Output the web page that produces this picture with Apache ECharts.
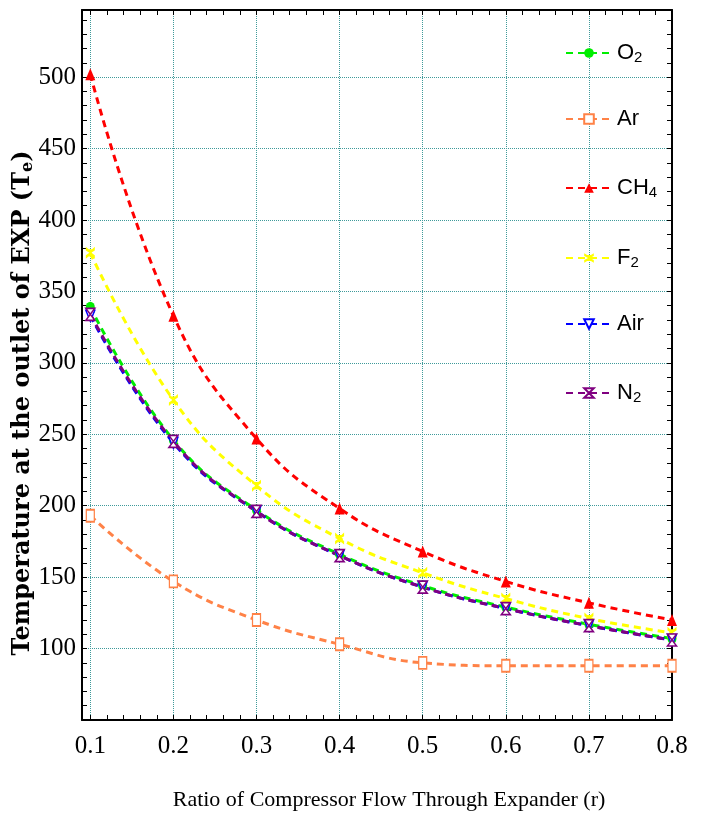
<!DOCTYPE html>
<html>
<head>
<meta charset="utf-8">
<script src="https://cdn.jsdelivr.net/npm/echarts@6/dist/echarts.min.js"></script>
<style>
  html, body { margin: 0; padding: 0; background: #ffffff; }
  #chart { width: 702px; height: 819px; }
</style>
</head>
<body>
<div id="chart"></div>
<script>
// Ratio of compressor flow through the expander
const ratio = [0.1, 0.2, 0.3, 0.4, 0.5, 0.6, 0.7, 0.8];

// Expander outlet temperature for each working gas
const tO2  = [339, 246, 197, 166, 144, 129, 117, 107];
const tAr  = [193, 147, 120, 103, 90, 88, 88, 88];
const tCH4 = [502, 333, 247, 198, 168, 147, 132, 120];
const tF2  = [377, 274, 214, 177, 153, 135, 121, 111];
const tAir = [333, 244, 196, 165, 143, 128, 116, 106];
const tN2  = [334, 245, 196, 165, 143, 128, 116, 106];

// Axis ticks
const xTickLabels = [0.1, 0.2, 0.3, 0.4, 0.5, 0.6, 0.7, 0.8];
const xMinorStep = 0.02;
const yTickLabels = [100, 150, 200, 250, 300, 350, 400, 450, 500];

const xMinorTicks = [];
for (let v = 0.1; v <= 0.8001; v += xMinorStep) xMinorTicks.push(+v.toFixed(2));

const GRID_COLOR = '#3f9a9a';
const SERIF = '"Liberation Serif", "Times New Roman", serif';
const SANS = '"Liberation Sans", Arial, sans-serif';

const gases = [
  { name: 'O2',  label: '{a|O}{s|2}',  data: tO2,  color: '#00ee00', fill: '#00ee00', symbol: 'circle', size: [9, 11] },
  { name: 'Ar',  label: '{a|Ar}',      data: tAr,  color: '#ff8247', fill: '#ffffff', symbol: 'rect', size: [8, 12] },
  { name: 'CH4', label: '{a|CH}{s|4}', data: tCH4, color: '#ff0000', fill: '#ff0000', symbol: 'triangle', size: [10, 12] },
  { name: 'F2',  label: '{a|F}{s|2}',  data: tF2,  color: '#ffff00', fill: '#ffff00',
    symbol: 'path://M0,0 L3,2 L7,2 L10,0 L10,3 L6,5 L10,7 L10,10 L7,8 L3,8 L0,10 L0,7 L4,5 L0,3 Z', size: [9, 12] },
  { name: 'Air', label: '{a|Air}',     data: tAir, color: '#0000ff', fill: '#ffffff', symbol: 'path://M0,0 L10,0 L5,10 Z', size: [9, 11] },
  { name: 'N2',  label: '{a|N}{s|2}',  data: tN2,  color: '#800080', fill: '#ffffff', symbol: 'path://M0,0 L10,0 L5,5 L10,10 L0,10 L5,5 Z', size: [9, 12] }
];
const labelByName = {};
gases.forEach(g => { labelByName[g.name] = g.label; });

const series = gases.map(g => ({
  name: g.name,
  type: 'line',
  xAxisIndex: 0,
  yAxisIndex: 0,
  data: ratio.map((r, i) => [r, g.data[i]]),
  smooth: 0.45,
  symbol: g.symbol,
  symbolSize: g.size,
  showAllSymbol: true,
  lineStyle: { color: g.color, width: 3, type: [7, 5] },
  itemStyle: { color: g.fill, borderColor: g.color, borderWidth: g.fill === '#ffffff' ? 1.5 : 0 },
  emphasis: { disabled: true },
  z: 3
}));

const chart = echarts.init(document.getElementById('chart'), null, { renderer: 'canvas' });

const axisLine = { show: true, lineStyle: { color: '#000000', width: 2 } };

chart.setOption({
  animation: false,
  backgroundColor: '#ffffff',
  grid: { left: 82, right: 30, top: 10, bottom: 99, containLabel: false, outerBoundsMode: 'none' },
  legend: {
    orient: 'vertical',
    left: 560,
    top: 33,
    itemGap: 43,
    itemWidth: 46,
    itemHeight: 12,
    data: gases.map(g => g.name),
    formatter: name => labelByName[name],
    textStyle: {
      fontFamily: SANS,
      color: '#000000',
      rich: {
        a: { fontFamily: SANS, fontSize: 22, color: '#000000', lineHeight: 24 },
        s: { fontFamily: SANS, fontSize: 15, color: '#000000', verticalAlign: 'bottom', padding: [12, 0, 0, 0], lineHeight: 24 }
      }
    }
  },
  xAxis: [
    {
      type: 'value',
      position: 'bottom',
      min: 0.09,
      max: 0.8,
      axisLine: axisLine,
      axisTick: { show: true, inside: true, length: 5, customValues: xTickLabels, lineStyle: { color: '#000' } },
      axisLabel: {
        customValues: xTickLabels,
        formatter: v => v.toFixed(1),
        fontFamily: SERIF, fontSize: 25, color: '#000', margin: 14
      },
      splitLine: { show: true, lineStyle: { color: GRID_COLOR, type: 'dotted', width: 1 } },
      name: 'Ratio of Compressor Flow Through Expander (r)',
      nameLocation: 'middle',
      nameGap: 69,
      nameMoveOverlap: false,
      nameTextStyle: { fontFamily: SERIF, fontSize: 22, color: '#000', padding: [0, 0, 0, 24] }
    },
    {
      type: 'value',
      position: 'top',
      min: 0.09,
      max: 0.8,
      axisLine: axisLine,
      axisTick: { show: true, inside: true, length: 5, customValues: xMinorTicks, lineStyle: { color: '#000' } },
      axisLabel: { show: false },
      splitLine: { show: false }
    },
    {
      type: 'value',
      position: 'bottom',
      min: 0.09,
      max: 0.8,
      axisLine: { show: false },
      axisTick: { show: true, inside: true, length: 5, customValues: xMinorTicks, lineStyle: { color: '#000' } },
      axisLabel: { show: false },
      splitLine: { show: false }
    }
  ],
  yAxis: [
    {
      type: 'value',
      position: 'left',
      min: 50,
      max: 547,
      interval: 50,
      axisLine: axisLine,
      axisTick: { show: true, inside: true, length: 5, lineStyle: { color: '#000' } },
      minorTick: { show: true, splitNumber: 5, length: 5, lineStyle: { color: '#000' } },
      axisLabel: {
        showMinLabel: false,
        showMaxLabel: false,
        formatter: v => (yTickLabels.indexOf(v) >= 0 ? String(v) : ''),
        fontFamily: SERIF, fontSize: 25, color: '#000', margin: 6
      },
      splitLine: { show: true, lineStyle: { color: GRID_COLOR, type: 'dotted', width: 1 } },
      name: '{n|Temperature at the outlet of EXP (T}{s|e}{n|)}',
      nameLocation: 'middle',
      nameGap: 46,
      nameMoveOverlap: false,
      nameTextStyle: {
        padding: [0, 76, 0, 0],
        rich: {
          n: { fontFamily: '"DejaVu Serif", serif', fontWeight: 'bold', fontSize: 24, color: '#000' },
          s: { fontFamily: '"DejaVu Serif", serif', fontWeight: 'bold', fontSize: 16, color: '#000', verticalAlign: 'bottom', padding: [10, 0, 0, 0] }
        }
      }
    },
    {
      type: 'value',
      position: 'right',
      min: 50,
      max: 547,
      interval: 50,
      axisLine: axisLine,
      axisTick: { show: true, inside: true, length: 5, lineStyle: { color: '#000' } },
      minorTick: { show: true, splitNumber: 5, length: 5, lineStyle: { color: '#000' } },
      axisLabel: { show: false },
      splitLine: { show: false }
    }
  ],
  series: series
});
</script>
</body>
</html>
